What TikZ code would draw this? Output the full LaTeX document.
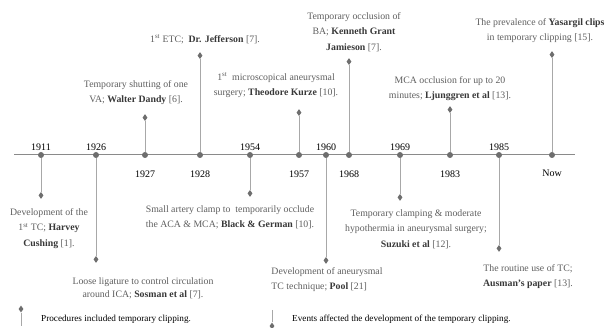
\documentclass[tikz,border=0pt]{standalone}
\usepackage{fontspec}
\setmainfont{Liberation Serif}
\usetikzlibrary{positioning, shapes.geometric}

\definecolor{axisgray}{HTML}{8A8A8A}
\definecolor{dotgray}{HTML}{6E6E6E}
\definecolor{stemgray}{HTML}{A8A8A8}
\definecolor{txtgray}{HTML}{5E5E5E}
\definecolor{namegray}{HTML}{383838}
\newcommand{\who}[1]{\textcolor{namegray}{\textbf{#1}}}

\begin{document}
\begin{tikzpicture}[x=1pt,y=-1pt,
        evdot/.style={circle,fill=dotgray,inner sep=0pt,minimum size=6pt},
        evtip/.style={diamond,fill=dotgray,inner sep=0pt,minimum width=5pt,minimum height=7pt},
        evstem/.style={draw=stemgray,line width=1pt},
        yr/.style={inner sep=1pt,font=\fontsize{10}{12}\selectfont},
        note/.style={align=center,inner sep=1pt,text=txtgray,font=\fontsize{9.8}{15.5}\selectfont},
        keytext/.style={anchor=west,inner sep=0pt,font=\fontsize{9.2}{11}\selectfont}]
        \useasboundingbox (0,0) rectangle (606,328);

        % axis
        \coordinate (axl) at (14,155);
        \coordinate (axr) at (575,155);
        \draw[draw=axisgray,line width=1pt] (axl) -- (axr);

        \node[evdot] (d1911) at (41,155) {};
        \node[evdot] (d1926) at (96,155) {};
        \node[evdot] (d1927) at (145,155) {};
        \node[evdot] (d1928) at (200,155) {};
        \node[evdot] (d1954) at (250,155) {};
        \node[evdot] (d1957) at (299,155) {};
        \node[evdot] (d1960) at (326,155) {};
        \node[evdot] (d1968) at (349,155) {};
        \node[evdot] (d1969) at (400,155) {};
        \node[evdot] (d1983) at (450,155) {};
        \node[evdot] (d1985) at (499,155) {};
        \node[evdot] (dnow) at (552,155) {};

        % years
        \node[yr] (y1911) [above=0pt of d1911] {1911};
        \node[yr] (y1926) [above=0pt of d1926] {1926};
        \node[yr] (y1954) [above=0pt of d1954] {1954};
        \node[yr] (y1960) [above=0pt of d1960] {1960};
        \node[yr] (y1969) [above=0pt of d1969] {1969};
        \node[yr] (y1985) [above=0pt of d1985] {1985};
        \node[yr] (y1927) [below=11pt of d1927] {1927};
        \node[yr] (y1928) [below=11pt of d1928] {1928};
        \node[yr] (y1957) [below=11pt of d1957] {1957};
        \node[yr] (y1968) [below=11pt of d1968] {1968};
        \node[yr] (y1983) [below=11pt of d1983] {1983};
        \node[yr] (ynow) [below=11pt of dnow] {Now};

        % tips
        \node[evtip] (t1911) [below=33.5pt of d1911] {};
        \node[evtip] (t1926) [below=97.5pt of d1926] {};
        \node[evtip] (t1954) [below=31.5pt of d1954] {};
        \node[evtip] (t1960) [below=98.5pt of d1960] {};
        \node[evtip] (t1969) [below=35.5pt of d1969] {};
        \node[evtip] (t1985) [below=86.5pt of d1985] {};
        \node[evtip] (t1927) [above=30.5pt of d1927] {};
        \node[evtip] (t1928) [above=92.5pt of d1928] {};
        \node[evtip] (t1957) [above=35.5pt of d1957] {};
        \node[evtip] (t1968) [above=86.5pt of d1968] {};
        \node[evtip] (t1983) [above=38.5pt of d1983] {};
        \node[evtip] (tnow) [above=93.5pt of dnow] {};

        \path[evstem]
        (d1911) edge (t1911)
        (d1926) edge (t1926)
        (d1927) edge (t1927)
        (d1928) edge (t1928)
        (d1954) edge (t1954)
        (d1957) edge (t1957)
        (d1960) edge (t1960)
        (d1968) edge (t1968)
        (d1969) edge (t1969)
        (d1983) edge (t1983)
        (d1985) edge (t1985)
        (dnow) edge (tnow);

        % events below the axis
        \node[note] (n1911) [below=8pt of t1911, xshift=8pt]
                {Development of the\\1\textsuperscript{st} TC; \who{Harvey}\\\who{Cushing} [1].};
        \node[note, font=\fontsize{9.8}{13}\selectfont] (n1926) [below=13pt of t1926, xshift=47pt]
                {Loose ligature to control circulation\\around ICA; \who{Sosman et al} [7].};
        \node[note] (n1954) [below=7pt of t1954, xshift=-20pt]
                {Small artery clamp to\ \ temporarily occlude\\the ACA \& MCA; \who{Black \& German} [10].};
        \node[note, align=left] (n1960) [below=2pt of t1960, xshift=1pt]
                {Development of aneurysmal\\TC technique; \who{Pool} [21]};
        \node[note] (n1969) [below=7pt of t1969, xshift=16pt]
                {Temporary clamping \& moderate\\hypothermia in aneurysmal surgery;\\\who{Suzuki et al} [12].};
        \node[note] (n1985) [below=11pt of t1985, xshift=29pt]
                {The routine use of TC;\\\who{Ausman's paper} [13].};

        % events above the axis
        \node[note] (n1927) [above=8pt of t1927, xshift=-9pt]
                {Temporary shutting of one\\VA; \who{Walter Dandy} [6].};
        \node[note] (n1928) [above=7pt of t1928, xshift=5pt]
                {1\textsuperscript{st} ETC;\ \ \who{Dr. Jefferson} [7].};
        \node[note] (n1957) [above=10pt of t1957, xshift=-23pt]
                {1\textsuperscript{st}\ \ microscopical aneurysmal\\surgery; \who{Theodore Kurze} [10].};
        \node[note] (n1968) [above=5pt of t1968, xshift=5pt]
                {Temporary occlusion of\\BA; \who{Kenneth Grant}\\\who{Jamieson} [7].};
        \node[note] (n1983) [above=4pt of t1983]
                {MCA occlusion for up to 20\\minutes; \who{Ljunggren et al} [13].};
        \node[note] (nnow) [above=7pt of tnow, xshift=-12pt]
                {The prevalence of \who{Yasargil clips}\\in temporary clipping [15].};

        % legend
        \node[evtip] (ka) at (21,309) {};
        \coordinate (kaend) at (21,326);
        \draw[evstem] (ka) -- (kaend);
        \node[keytext] (kta) at (41,319) {Procedures included temporary clipping.};

        \coordinate (kbtop) at (272,310);
        \node[evtip] (kb) at (272,326) {};
        \draw[evstem] (kbtop) -- (kb);
        \node[keytext] (ktb) at (292,319) {Events affected the development of the temporary clipping.};
\end{tikzpicture}
\end{document}
